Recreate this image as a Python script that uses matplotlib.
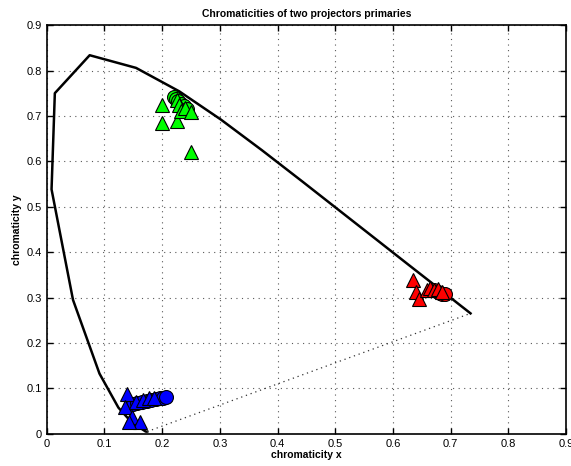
import numpy as np
import matplotlib
matplotlib.use("Agg")
import matplotlib.pyplot as plt

plt.rcParams['font.family'] = ['Liberation Sans', 'DejaVu Sans']

# CIE 1931 spectral locus (chromaticity x, y)
locus_x = [0.1741, 0.1733, 0.1714, 0.1644, 0.1566, 0.1440, 0.1241, 0.0913, 0.0454,
           0.0082, 0.0139, 0.0743, 0.1547, 0.2296, 0.3016, 0.3731, 0.4441, 0.5125,
           0.5752, 0.6270, 0.6658, 0.6915, 0.7079, 0.7190, 0.7260, 0.7300, 0.7347]
locus_y = [0.0050, 0.0048, 0.0051, 0.0109, 0.0177, 0.0297, 0.0578, 0.1327, 0.2950,
           0.5384, 0.7502, 0.8338, 0.8059, 0.7543, 0.6923, 0.6245, 0.5547, 0.4866,
           0.4242, 0.3725, 0.3340, 0.3083, 0.2920, 0.2809, 0.2740, 0.2700, 0.2653]

# projector 1 primaries (circles)
red_circ_x = [0.672, 0.678, 0.682, 0.686, 0.690]
red_circ_y = [0.316, 0.313, 0.311, 0.309, 0.307]
green_circ_x = [0.220, 0.224, 0.228, 0.233, 0.238, 0.243]
green_circ_y = [0.742, 0.738, 0.733, 0.727, 0.721, 0.715]
blue_circ_x = [0.150, 0.157, 0.165, 0.173, 0.181, 0.189, 0.196, 0.202, 0.207]
blue_circ_y = [0.066, 0.068, 0.070, 0.072, 0.074, 0.076, 0.078, 0.080, 0.081]

# projector 2 primaries (triangles)
red_tri_x = [0.635, 0.640, 0.645, 0.660, 0.665, 0.672, 0.678, 0.686]
red_tri_y = [0.338, 0.312, 0.297, 0.316, 0.321, 0.316, 0.320, 0.312]
green_tri_x = [0.200, 0.200, 0.225, 0.225, 0.230, 0.232, 0.240, 0.250, 0.250]
green_tri_y = [0.725, 0.685, 0.690, 0.735, 0.725, 0.710, 0.718, 0.708, 0.620]
blue_tri_x = [0.139, 0.135, 0.148, 0.161, 0.143, 0.155, 0.167, 0.178, 0.186]
blue_tri_y = [0.088, 0.060, 0.038, 0.027, 0.025, 0.070, 0.075, 0.078, 0.080]

fig = plt.figure(figsize=(5.71, 4.66), dpi=100)
ax = fig.add_axes([0.082, 0.069, 0.909, 0.877])

ax.plot(locus_x, locus_y, color='black', lw=1.8, zorder=3)
ax.plot([locus_x[0], locus_x[-1]], [locus_y[0], locus_y[-1]],
        color='0.2', lw=0.9, ls=(0, (1, 3)), zorder=3)

for xs, ys, c in [(red_circ_x, red_circ_y, 'red'),
                  (green_circ_x, green_circ_y, 'lime'),
                  (blue_circ_x, blue_circ_y, 'blue')]:
    ax.plot(xs, ys, 'o', ms=10, mfc=c, mec='black', mew=0.8, zorder=4)
for xs, ys, c in [(red_tri_x, red_tri_y, 'red'),
                  (green_tri_x, green_tri_y, 'lime'),
                  (blue_tri_x, blue_tri_y, 'blue')]:
    ax.plot(xs, ys, '^', ms=10.5, mfc=c, mec='black', mew=0.8, zorder=5)

ax.set_xlim(0, 0.9)
ax.set_ylim(0, 0.9)
ax.set_xticks(np.arange(0, 0.91, 0.1))
ax.set_yticks(np.arange(0, 0.91, 0.1))
ax.set_xticklabels(['0', '0.1', '0.2', '0.3', '0.4', '0.5', '0.6', '0.7', '0.8', '0.9'])
ax.set_yticklabels(['0', '0.1', '0.2', '0.3', '0.4', '0.5', '0.6', '0.7', '0.8', '0.9'])
ax.tick_params(direction='in', length=4, width=1, labelsize=8,
               top=True, right=True)
ax.grid(True, color='0.35', ls=(0, (1, 4)), lw=0.8)
for s in ax.spines.values():
    s.set_linewidth(1.2)

ax.set_title('Chromaticities of two projectors primaries', fontsize=7.5,
             fontweight='bold', pad=6)
ax.set_xlabel('chromaticity x', fontsize=7.5, fontweight='bold', labelpad=1)
ax.set_ylabel('chromaticity y', fontsize=7.5, fontweight='bold', labelpad=3)

fig.savefig('out.png', dpi=100)
